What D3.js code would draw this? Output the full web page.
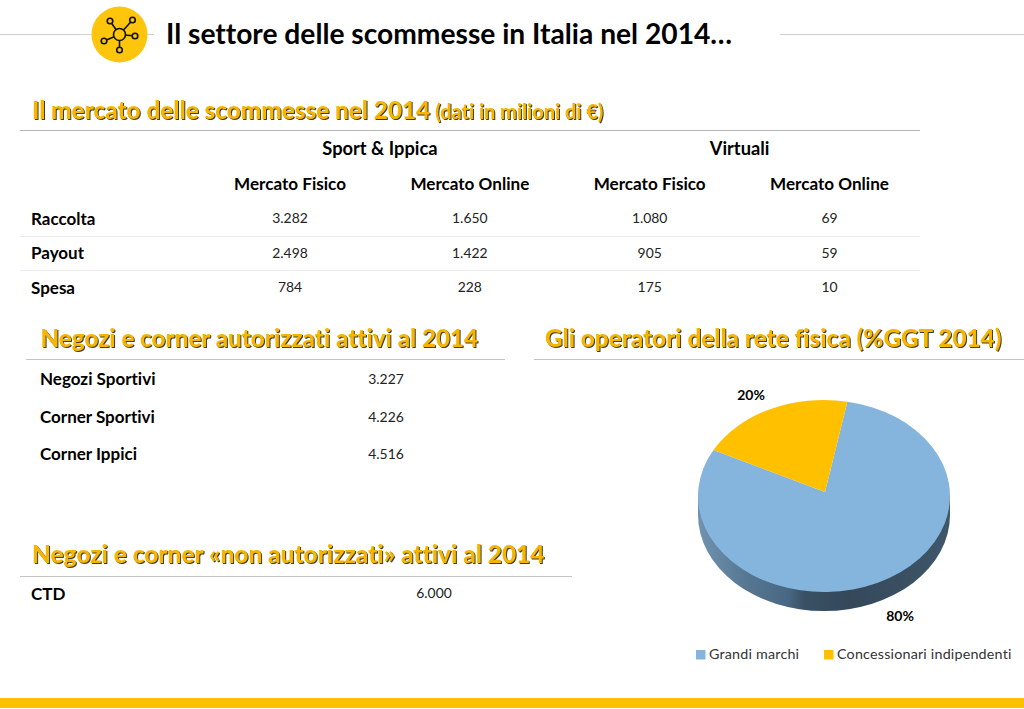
<!DOCTYPE html>
<html>
<head>
<meta charset="utf-8">
<script src="https://cdn.jsdelivr.net/npm/d3@7"></script>
<style>
  body { margin: 0; background: #fff; }
  svg { display: block; font-family: Lato, "Open Sans", sans-serif; font-variant-ligatures: none; }
  .heading { fill: #f7b500; font-weight: 900; filter: drop-shadow(1.3px 1.3px 0.5px rgba(50,50,50,.95)); }
  .label { font-weight: 700; fill: #000; }
  .value { fill: #222; font-weight: 400; }
</style>
</head>
<body>
<svg id="chart" width="1024" height="709"></svg>
<script>
const pageTitle = 'Il settore delle scommesse in Italia nel 2014…';

const groups = ['Sport & Ippica', 'Virtuali'];
const channels = ['Mercato Fisico', 'Mercato Online', 'Mercato Fisico', 'Mercato Online'];
const marketRows = ['Raccolta', 'Payout', 'Spesa'];
const raccolta = ['3.282', '1.650', '1.080', '69'];
const payout = ['2.498', '1.422', '905', '59'];
const spesa = ['784', '228', '175', '10'];

const shopLabels = ['Negozi Sportivi', 'Corner Sportivi', 'Corner Ippici'];
const shopValues = ['3.227', '4.226', '4.516'];
const ctdLabels = ['CTD'];
const ctdValues = ['6.000'];

const pieLabels = ['Grandi marchi', 'Concessionari indipendenti'];
const pieValues = [80, 20];

const svg = d3.select('#chart');

const hline = (x1, x2, y, color, w = 1) => svg.append('line')
  .attr('x1', x1).attr('x2', x2).attr('y1', y).attr('y2', y)
  .attr('stroke', color).attr('stroke-width', w);

const text = (x, y, str, cls, size, anchor = 'start') => svg.append('text')
  .attr('x', x).attr('y', y).attr('class', cls)
  .attr('font-size', size).attr('text-anchor', anchor).text(str);

// header
hline(0, 100, 34.5, '#cfcfcf');
hline(140, 154, 34.5, '#cfcfcf');
hline(780, 1024, 34.5, '#cfcfcf');

const icon = svg.append('g').attr('transform', 'translate(119.5,34.5)');
icon.append('circle').attr('r', 28).attr('fill', '#fdc50c');
const iconNodes = [[-9.5, -13.5], [13, -14.5], [15.5, 1.5], [0, 15.5], [-15.5, 6.5]];
iconNodes.forEach(([x, y]) => {
  icon.append('line').attr('x2', x).attr('y2', y).attr('stroke', '#111').attr('stroke-width', 1.6);
  icon.append('circle').attr('cx', x).attr('cy', y).attr('r', 2.8)
    .attr('fill', '#fdc50c').attr('stroke', '#111').attr('stroke-width', 1.6);
});
icon.append('circle').attr('r', 6).attr('fill', '#fdc50c').attr('stroke', '#111').attr('stroke-width', 1.6);

svg.append('text').attr('x', 166).attr('y', 44).attr('font-size', 28.2)
  .attr('font-weight', 700).attr('fill', '#000').text(pageTitle);

// market table
const h1 = text(32, 119, 'Il mercato delle scommesse nel 2014', 'heading', 24.3);
h1.append('tspan').attr('font-size', 19.9).attr('dx', 5).text('(dati in milioni di €)');
hline(20, 920, 130.5, '#b5b5b5', 1.2);

const colX = d3.scalePoint().domain(d3.range(channels.length)).range([290, 829.5]);
const rowY = d3.scalePoint().domain(marketRows).range([223, 292]);

groups.forEach((g, i) => {
  const x = d3.mean([colX(i * 2), colX(i * 2 + 1)]);
  text(x, 155, g, 'label', 18.3, 'middle');
});
channels.forEach((c, i) => text(colX(i), 190, c, 'label', 17.1, 'middle'));

[raccolta, payout, spesa].forEach((vals, r) => {
  const y = rowY(marketRows[r]);
  text(31, y + 1.5, marketRows[r], 'label', 17);
  vals.forEach((v, i) => text(colX(i), y, v, 'value', 13.9, 'middle'));
});
hline(20, 920, 236.5, '#ececec');
hline(20, 920, 270.5, '#ececec');

// authorised shops
text(40.5, 347, 'Negozi e corner autorizzati attivi al 2014', 'heading', 24.2);
hline(26, 505, 359.5, '#c4c4c4', 1.2);
const shopY = d3.scalePoint().domain(shopLabels).range([384, 459]);
shopLabels.forEach((l, i) => {
  text(40, shopY(l) + 1, l, 'label', 17);
  text(386, shopY(l), shopValues[i], 'value', 13.9, 'middle');
});

// not authorised
text(32, 563, 'Negozi e corner «non autorizzati» attivi al 2014', 'heading', 24.45);
hline(20, 572, 576.5, '#c4c4c4', 1.2);
ctdLabels.forEach((l, i) => {
  text(31, 600, l, 'label', 17);
  text(434, 598, ctdValues[i], 'value', 13.9, 'middle');
});

// pie
text(545, 347, 'Gli operatori della rete fisica (%GGT 2014)', 'heading', 24.3);
hline(534, 1024, 359.5, '#c4c4c4', 1.2);

const cx = 824, cy = 496, rx = 126, ry = 96, depth = 19;
const apex = [825, 492];
const pieColor = d3.scaleOrdinal().domain(pieLabels).range(['#85b4dd', '#ffc000']);
const startAngle = 10.7 * Math.PI / 180;
const slices = d3.pie().sort(null).startAngle(startAngle).endAngle(startAngle + 2 * Math.PI)(pieValues);

const rim = a => [cx + rx * Math.sin(a), cy - ry * Math.cos(a)];
const sector = d => {
  const [x0, y0] = rim(d.startAngle), [x1, y1] = rim(d.endAngle);
  const large = d.endAngle - d.startAngle > Math.PI ? 1 : 0;
  return `M${apex}L${x0},${y0}A${rx},${ry} 0 ${large} 1 ${x1},${y1}Z`;
};

const grad = svg.append('defs').append('linearGradient').attr('id', 'wall');
[[0, '#7193b0'], [0.2, '#557691'], [0.36, '#486782'], [0.42, '#3a5165'], [0.6, '#34485a'], [1, '#3f5769']]
  .forEach(([o, c]) => grad.append('stop').attr('offset', o).attr('stop-color', c));

svg.append('path')
  .attr('d', `M${cx - rx},${cy}L${cx - rx},${cy + depth}A${rx},${ry} 0 0 0 ${cx + rx},${cy + depth}L${cx + rx},${cy}Z`)
  .attr('fill', 'url(#wall)');

svg.selectAll('path.slice').data(slices).join('path')
  .attr('class', 'slice')
  .attr('d', sector)
  .attr('fill', (d, i) => pieColor(pieLabels[i]));

text(751, 400, pieValues[1] + '%', 'label', 14, 'middle');
text(900, 621, pieValues[0] + '%', 'label', 14, 'middle');

// legend
const legendX = d3.scaleOrdinal().domain(pieLabels).range([696, 824]);
pieLabels.forEach(l => {
  svg.append('rect').attr('x', legendX(l)).attr('y', 650).attr('width', 9.5).attr('height', 9.5)
    .attr('fill', pieColor(l));
  svg.append('text').attr('x', legendX(l) + 13).attr('y', 659).attr('font-size', 14.3)
    .attr('fill', '#333').attr('letter-spacing', 0.2).text(l);
});

// footer bar
svg.append('rect').attr('x', 0).attr('y', 698).attr('width', 1024).attr('height', 10).attr('fill', '#ffc000');
</script>
</body>
</html>
